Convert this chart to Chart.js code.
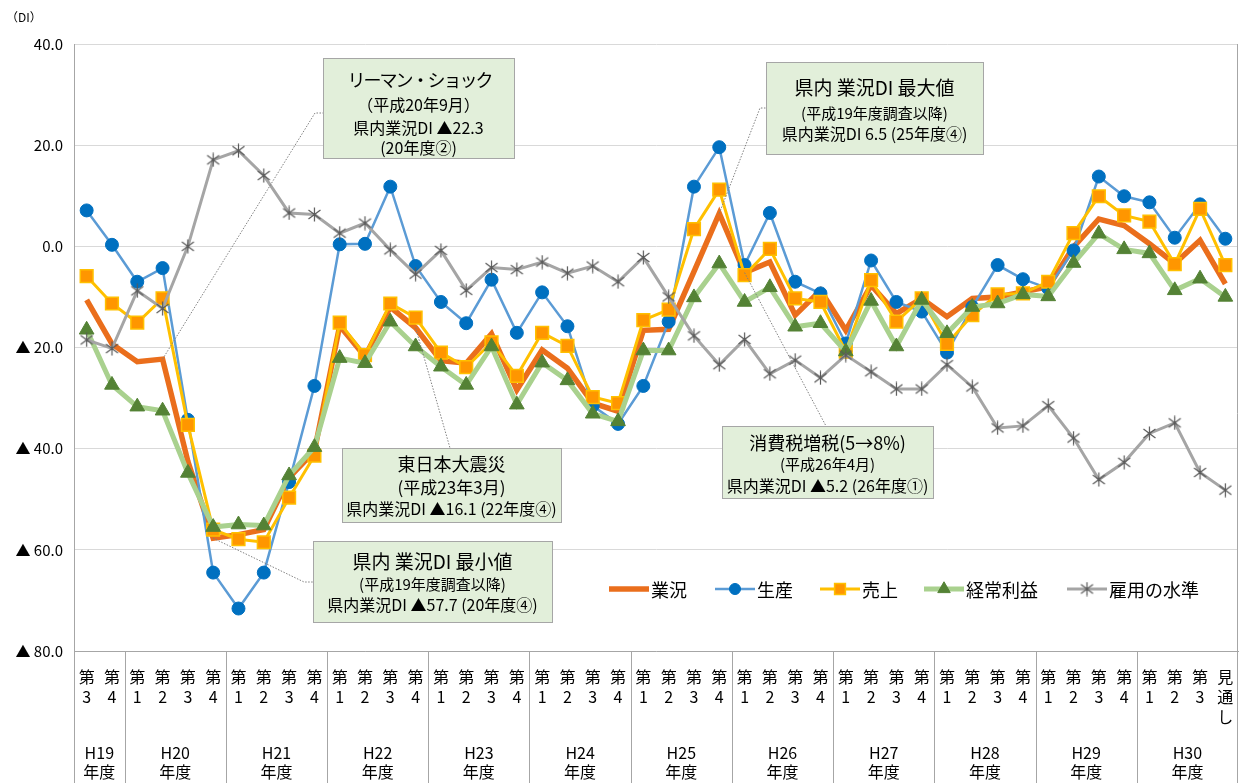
<!DOCTYPE html>
<html>
<head>
<meta charset="utf-8">
<script src="https://cdn.jsdelivr.net/npm/chart.js@4.4.1/dist/chart.umd.min.js"></script>
<style>
html, body { margin: 0; padding: 0; background: #fff; }
#wrap { width: 1240px; height: 783px; position: relative; }
</style>
</head>
<body>
<div id="wrap"><canvas id="di"></canvas></div>
<script>
// quarters (H19 3Q .. H30 3Q + outlook)
const quarterLabels = ['3','4', '1','2','3','4', '1','2','3','4', '1','2','3','4', '1','2','3','4',
  '1','2','3','4', '1','2','3','4', '1','2','3','4', '1','2','3','4', '1','2','3','4',
  '1','2','3','4', '1','2','3','見通し'];
const fiscalYears = ['H19','H20','H21','H22','H23','H24','H25','H26','H27','H28','H29','H30'];
const quartersPerYear = [2,4,4,4,4,4,4,4,4,4,4,4];

const gyokyo = [-10.6,-19.3,-22.8,-22.3,-42.5,-57.7,-57.0,-56.0,-45.7,-40.5,-15.7,-21.8,-12.0,-16.1,
  -22.6,-23.1,-17.3,-28.4,-20.5,-24.1,-31.0,-32.6,-16.6,-16.4,-5.0,6.5,-5.2,-3.1,-13.6,-8.7,
  -16.6,-7.7,-13.3,-10.3,-13.9,-10.3,-10.0,-9.0,-8.0,-0.1,5.4,4.1,0.5,-3.4,1.2,-7.4];
const seisan = [7.1,0.3,-7.0,-4.3,-34.3,-64.5,-71.6,-64.5,-46.6,-27.6,0.4,0.5,11.8,-3.9,
  -11.0,-15.2,-6.6,-17.1,-9.1,-15.8,-31.5,-35.1,-27.6,-14.9,11.8,19.6,-3.7,6.6,-7.0,-9.3,
  -19.2,-2.8,-11.0,-12.9,-21.0,-12.0,-3.7,-6.5,-8.3,-0.8,13.8,9.9,8.7,1.7,8.3,1.5];
const uriage = [-5.9,-11.3,-15.1,-10.3,-35.3,-56.0,-57.9,-58.5,-49.7,-41.4,-15.1,-21.5,-11.3,-14.1,
  -21.0,-23.9,-19.0,-25.6,-17.1,-19.7,-29.8,-31.0,-14.6,-12.5,3.4,11.2,-5.7,-0.5,-10.3,-11.0,
  -20.8,-6.7,-14.9,-10.3,-19.3,-13.6,-9.5,-9.3,-7.0,2.6,9.9,6.1,4.9,-3.5,7.4,-3.7];
const keijo = [-16.5,-27.4,-31.7,-32.5,-44.8,-55.5,-55.0,-55.2,-45.3,-39.7,-22.1,-23.1,-14.9,-19.8,
  -23.8,-27.4,-19.8,-31.3,-23.0,-26.5,-33.1,-34.6,-20.6,-20.6,-10.1,-3.4,-11.0,-8.1,-15.9,-15.2,
  -20.8,-10.8,-19.8,-10.6,-17.2,-12.0,-11.3,-9.5,-9.9,-3.3,2.5,-0.6,-1.4,-8.7,-6.4,-10.0];
const koyo = [-18.5,-20.2,-8.8,-12.3,0.0,17.1,18.9,14.0,6.6,6.3,2.6,4.6,-0.7,-5.5,
  -0.8,-8.7,-4.2,-4.6,-3.1,-5.3,-3.9,-7.0,-2.2,-10.0,-17.7,-23.4,-18.4,-25.2,-22.5,-26.0,
  -21.5,-24.8,-28.2,-28.2,-23.4,-27.8,-35.9,-35.5,-31.5,-37.9,-46.1,-42.7,-37.0,-34.9,-44.7,-48.2];

const labels = quarterLabels.map(q => q === '見通し' ? ['見','通','し'] : ['第', q]);

const FONT = '"Noto Sans CJK JP", "Noto Sans", sans-serif';
Chart.defaults.font.family = FONT;
Chart.defaults.color = '#000';

// asterisk marker like the excel one
const star = document.createElement('canvas');
star.width = 15; star.height = 15;
const sc = star.getContext('2d');
sc.strokeStyle = '#595959';
sc.lineWidth = 1.2;
sc.beginPath();
sc.moveTo(1.5, 3); sc.lineTo(13.5, 12);
sc.moveTo(13.5, 3); sc.lineTo(1.5, 12);
sc.moveTo(7.5, 0.5); sc.lineTo(7.5, 14.5);
sc.stroke();

// text, size, y, letter spacing
const notes = [
  {x: 323, y: 58, w: 191, h: 100, idx: 3, path: [[315, 113], [323, 113]],
   lines: [['リーマン・ショック', 18, 80, -2], ['（平成20年9月）', 16, 105, 0], ['県内業況DI ▲22.3', 16, 128, 0], ['(20年度②)', 16, 148, 0]]},
  {x: 766, y: 62, w: 217, h: 92, idx: 25, path: [[760, 108], [766, 108]],
   lines: [['県内 業況DI 最大値', 19, 88, 0], ['(平成19年度調査以降)', 15, 113, 0], ['県内業況DI 6.5 (25年度④)', 16, 134, 0]]},
  {x: 342, y: 448, w: 219, h: 74, idx: 13, path: [[450, 448]],
   lines: [['東日本大震災', 18, 464, 0], ['(平成23年3月)', 17, 488, 0], ['県内業況DI ▲16.1 (22年度④)', 16, 509, 0]]},
  {x: 313, y: 541, w: 239, h: 81, idx: 5, path: [[304, 582], [313, 582]],
   lines: [['県内 業況DI 最小値', 19, 562, 0], ['(平成19年度調査以降)', 15, 584, 0], ['県内業況DI ▲57.7 (20年度④)', 16, 605, 0]]},
  {x: 722, y: 426, w: 211, h: 72, idx: 26, path: [[826, 426]],
   lines: [['消費税増税(5→8%)', 18, 443, 0], ['(平成26年4月)', 15, 464, 0], ['県内業況DI ▲5.2 (26年度①)', 16, 486, 0]]}
];

const extras = {
  id: 'extras',
  afterDatasetsDraw(chart) {
    const ctx = chart.ctx;
    const xs = chart.scales.x, ys = chart.scales.y;
    ctx.save();
    notes.forEach(n => {
      ctx.strokeStyle = '#808080';
      ctx.lineWidth = 1;
      ctx.setLineDash([1.5, 1.5]);
      ctx.beginPath();
      ctx.moveTo(xs.getPixelForValue(n.idx), ys.getPixelForValue(gyokyo[n.idx]));
      n.path.forEach(p => ctx.lineTo(p[0], p[1]));
      ctx.stroke();
      ctx.setLineDash([]);
      ctx.fillStyle = '#E2EFDA';
      ctx.fillRect(n.x, n.y, n.w, n.h);
      ctx.strokeStyle = '#A6A6A6';
      ctx.strokeRect(n.x + 0.5, n.y + 0.5, n.w, n.h);
      ctx.fillStyle = '#000';
      ctx.textAlign = 'center';
      ctx.textBaseline = 'middle';
      n.lines.forEach(l => {
        ctx.font = l[1] + 'px ' + FONT;
        ctx.letterSpacing = l[3] + 'px';
        ctx.fillText(l[0], n.x + n.w / 2 - l[3] / 2, l[2]);
      });
      ctx.letterSpacing = '0px';
    });
    ctx.restore();
  },
  afterDraw(chart) {
    const ctx = chart.ctx;
    const area = chart.chartArea;
    const xs = chart.scales.x;
    const cell = (xs.right - xs.left) / labels.length;
    ctx.save();
    // year separators and names
    ctx.strokeStyle = '#A6A6A6';
    ctx.lineWidth = 1;
    let start = 0;
    ctx.beginPath();
    ctx.moveTo(Math.round(area.left) + 0.5, area.bottom);
    ctx.lineTo(Math.round(area.left) + 0.5, 783);
    ctx.moveTo(Math.round(area.right) - 0.5, area.top);
    ctx.lineTo(Math.round(area.right) - 0.5, 783);
    ctx.stroke();
    ctx.fillStyle = '#000';
    ctx.textAlign = 'center';
    ctx.textBaseline = 'middle';
    ctx.font = '16px ' + FONT;
    fiscalYears.forEach((fy, i) => {
      const n = quartersPerYear[i];
      const x0 = xs.getPixelForValue(start) - cell / 2;
      const x1 = x0 + n * cell;
      if (i < fiscalYears.length - 1) {
        ctx.beginPath();
        ctx.moveTo(Math.round(x1) + 0.5, area.bottom);
        ctx.lineTo(Math.round(x1) + 0.5, 783);
        ctx.stroke();
      }
      ctx.fillText(fy, (x0 + x1) / 2, 753);
      ctx.fillText('年度', (x0 + x1) / 2, 772);
      start += n;
    });
    // unit
    ctx.font = '12px ' + FONT;
    ctx.textAlign = 'left';
    ctx.fillText('（DI）', 6, 17);
    // legend
    const legendX = [609, 715, 820, 924, 1067];
    const ly = 589;
    chart.data.datasets.forEach((ds, i) => {
      const lx = legendX[i];
      ctx.strokeStyle = ds.borderColor;
      ctx.lineWidth = ds.borderWidth;
      ctx.beginPath();
      ctx.moveTo(lx, ly);
      ctx.lineTo(lx + 40, ly);
      ctx.stroke();
      if (ds.pointRadius > 0) {
        ctx.fillStyle = ds.pointBackgroundColor;
        ctx.strokeStyle = ds.pointBorderColor;
        ctx.lineWidth = ds.pointBorderWidth;
        Chart.helpers.drawPoint(ctx, {pointStyle: ds.pointStyle, radius: ds.pointRadius * 0.85,
          rotation: 0, borderWidth: ds.pointBorderWidth}, lx + 20, ly);
      }
      ctx.fillStyle = '#000';
      ctx.font = '18px ' + FONT;
      ctx.textAlign = 'left';
      ctx.fillText(ds.label, lx + 42, ly + 1);
    });
    ctx.restore();
  }
};

new Chart(document.getElementById('di'), {
  type: 'line',
  data: {
    labels: labels,
    datasets: [
      {label: '業況', data: gyokyo, order: 5, borderColor: '#EA6E1C', borderWidth: 5.5,
       pointRadius: 0, pointHoverRadius: 0},
      {label: '生産', data: seisan, order: 4, borderColor: '#5B9BD5', borderWidth: 2.5,
       pointStyle: 'circle', pointRadius: 6.5, pointBackgroundColor: '#0070C0', pointBorderColor: '#0070C0', pointBorderWidth: 1},
      {label: '売上', data: uriage, order: 3, borderColor: '#FFC000', borderWidth: 3,
       pointStyle: 'rect', pointRadius: 9, pointBackgroundColor: '#FF9600', pointBorderColor: '#FFC000', pointBorderWidth: 1.5},
      {label: '経常利益', data: keijo, order: 2, borderColor: '#A9D18E', borderWidth: 5,
       pointStyle: 'triangle', pointRadius: 8.5, pointBackgroundColor: '#548235', pointBorderColor: '#548235', pointBorderWidth: 1},
      {label: '雇用の水準', data: koyo, order: 1, borderColor: '#A5A5A5', borderWidth: 3,
       pointStyle: star, pointRadius: 7, pointBackgroundColor: 'rgba(0,0,0,0)', pointBorderColor: '#595959', pointBorderWidth: 1}
    ]
  },
  options: {
    responsive: true,
    maintainAspectRatio: false,
    animation: false,
    events: [],
    layout: { autoPadding: false, padding: { top: 44, right: 2, left: 0, bottom: 0 } },
    plugins: {
      legend: { display: false },
      tooltip: { enabled: false }
    },
    elements: { line: { tension: 0 } },
    scales: {
      x: {
        offset: true,
        grid: { display: false, drawTicks: false },
        border: { display: true, color: '#A6A6A6', width: 1 },
        ticks: { autoSkip: false, maxRotation: 0, padding: 16, color: '#000',
          font: { size: 16, lineHeight: 1.25 } },
        afterFit(s) { s.height = 132; s.paddingLeft = 0; s.paddingRight = 0; }
      },
      y: {
        min: -80,
        max: 40,
        grid: { color: '#D9D9D9', drawTicks: false },
        border: { display: true, color: '#A6A6A6', width: 1 },
        ticks: { stepSize: 20, padding: 11, color: '#000', font: { size: 15 },
          callback: v => v < 0 ? '▲ ' + (-v).toFixed(1) : v.toFixed(1) },
        afterFit(s) { s.width = 74; }
      }
    }
  },
  plugins: [extras]
});
</script>
</body>
</html>
